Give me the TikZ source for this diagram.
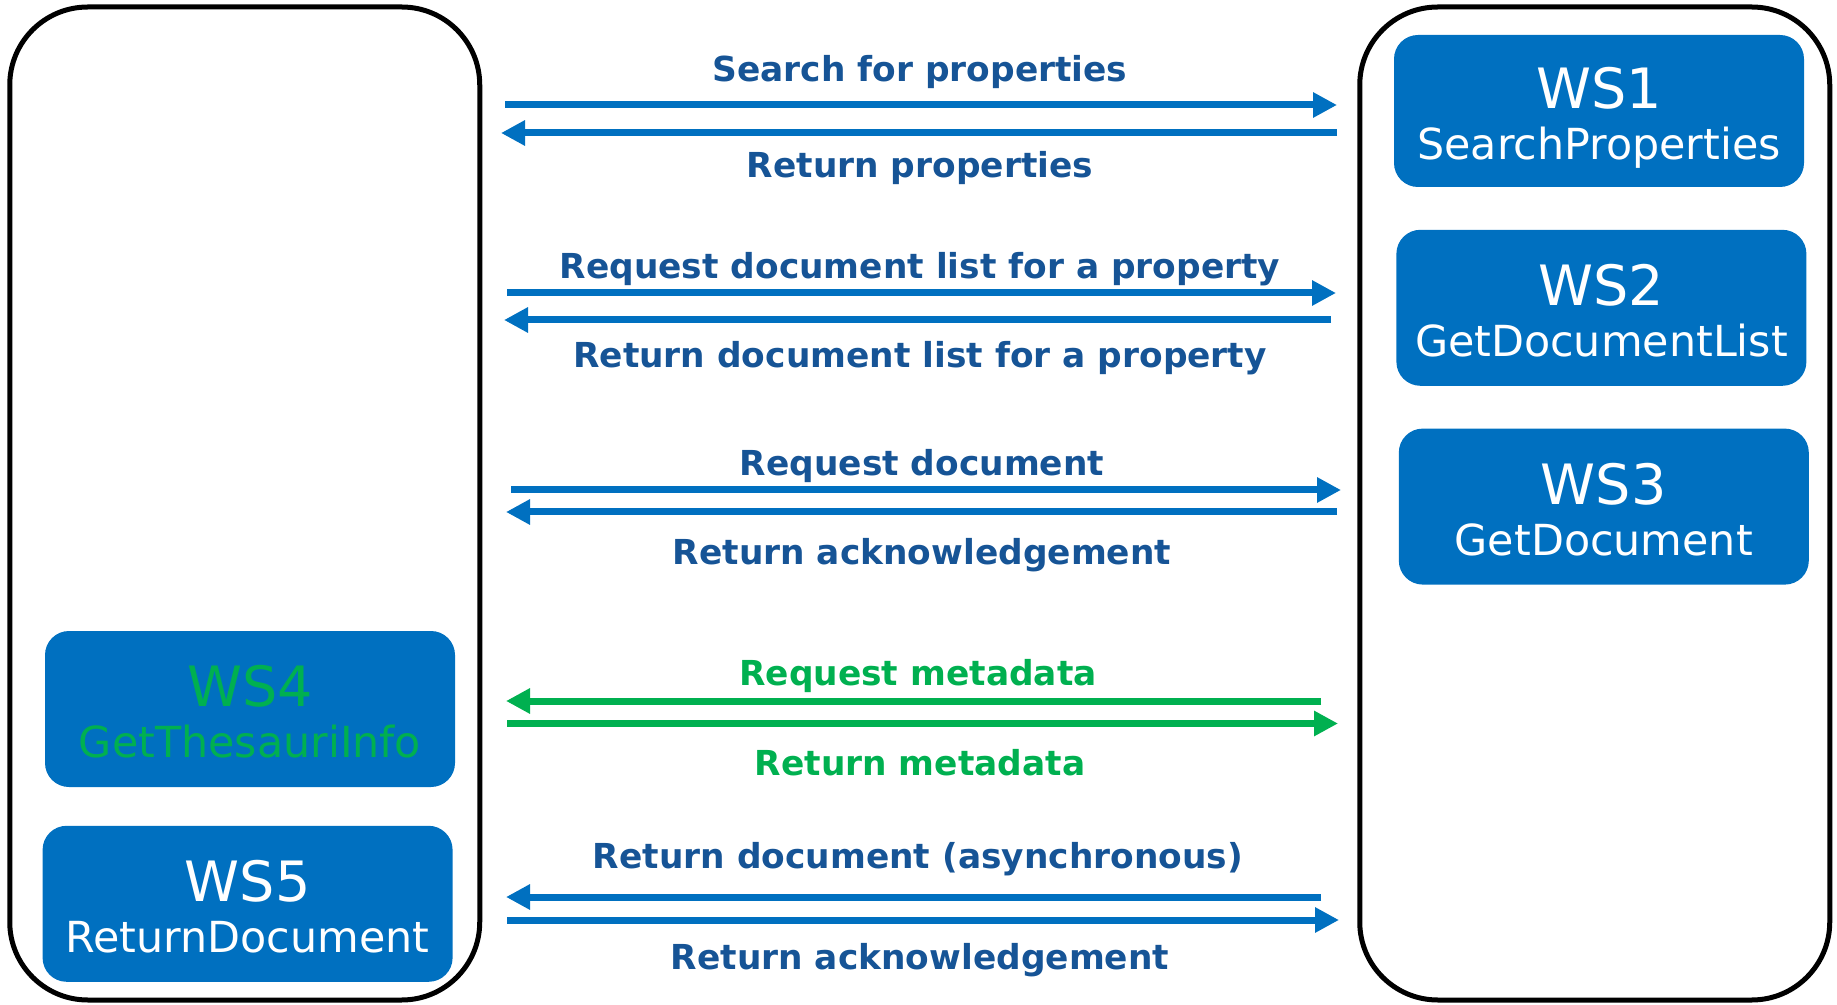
\documentclass[tikz,border=0pt]{standalone}
\usepackage{fontspec}
\setmainfont{DejaVu Sans}
\usetikzlibrary{arrows.meta,positioning}

\definecolor{wsblue}{HTML}{0070C0}
\definecolor{wsgreen}{HTML}{00B050}
\definecolor{msgblue}{RGB}{22,84,150}

\tikzset{
  side/.style={draw, line width=2.5pt, rounded corners=39pt,
    minimum width=235pt, minimum height=496.5pt},
  ws/.style={fill=wsblue, text=white, rounded corners=12pt, inner sep=0pt,
    minimum width=205pt, minimum height=78pt, align=center,
    font=\fontsize{21.4}{25.5}\selectfont},
  msg/.style={line width=3.5pt, wsblue, -{Triangle[length=12pt,width=12pt]}},
  meta/.style={msg, wsgreen},
  lbl/.style={anchor=base, text=msgblue, font=\fontsize{17.2}{20}\selectfont\bfseries},
}
\newcommand{\wsname}[2]{{\fontsize{27.8}{30}\selectfont\rule{0pt}{28.9pt}#1}\\#2\rule[-6pt]{0pt}{6pt}}

\begin{document}
\begin{tikzpicture}[x=0.5pt, y=-0.5pt]
  \useasboundingbox (0,0) rectangle (1837,1005);

  \node[side] (client) at (244.75,503.5) {};
  \node[side] (server) at (1594.75,503.5) {};

  \node[ws, minimum height=76pt] (ws1) at (1599,111) {\wsname{WS1}{SearchProperties}};
  \node[ws, below=21pt of ws1, xshift=1.2pt] (ws2) {\wsname{WS2}{GetDocumentList}};
  \node[ws, below=21pt of ws2, xshift=1.2pt] (ws3) {\wsname{WS3}{GetDocument}};
  \node[ws, text=wsgreen] (ws4) at (250,709) {\wsname{WS4}{GetThesauriInfo}};
  \node[ws, below=19pt of ws4, xshift=-1.2pt] (ws5) {\wsname{WS5}{ReturnDocument}};

  \coordinate (a1) at (505,105);    \coordinate (a2) at (1337,105);
  \coordinate (b1) at (1337,133);   \coordinate (b2) at (501,133);
  \coordinate (c1) at (507,293);    \coordinate (c2) at (1336,293);
  \coordinate (d1) at (1331,320);   \coordinate (d2) at (504,320);
  \coordinate (e1) at (511,490);    \coordinate (e2) at (1341,490);
  \coordinate (f1) at (1337,512);   \coordinate (f2) at (506,512);
  \coordinate (g1) at (1321,701);   \coordinate (g2) at (506,701);
  \coordinate (h1) at (507,723.5);  \coordinate (h2) at (1338,723.5);
  \coordinate (i1) at (1321,897);   \coordinate (i2) at (506,897);
  \coordinate (j1) at (507,920);    \coordinate (j2) at (1339,920);

  \draw[msg] (a1) -- (a2);
  \draw[msg] (b1) -- (b2);
  \draw[msg] (c1) -- (c2);
  \draw[msg] (d1) -- (d2);
  \draw[msg] (e1) -- (e2);
  \draw[msg] (f1) -- (f2);
  \draw[meta] (g1) -- (g2);
  \draw[meta] (h1) -- (h2);
  \draw[msg] (i1) -- (i2);
  \draw[msg] (j1) -- (j2);

  \node[lbl] (t1) at (920,81.5) {Search for properties};
  \node[lbl] (t2) at (920,177.5) {Return properties};
  \node[lbl] (t3) at (920,278.5) {Request document list for a property};
  \node[lbl] (t4) at (920,367.5) {Return document list for a property};
  \node[lbl] (t5) at (922,475.5) {Request document};
  \node[lbl] (t6) at (922,564.5) {Return acknowledgement};
  \node[lbl, text=wsgreen] (t7) at (918,685.5) {Request metadata};
  \node[lbl, text=wsgreen] (t8) at (920,775.5) {Return metadata};
  \node[lbl] (t9) at (918,868.5) {Return document (asynchronous)};
  \node[lbl] (t10) at (920,969.5) {Return acknowledgement};
\end{tikzpicture}
\end{document}
